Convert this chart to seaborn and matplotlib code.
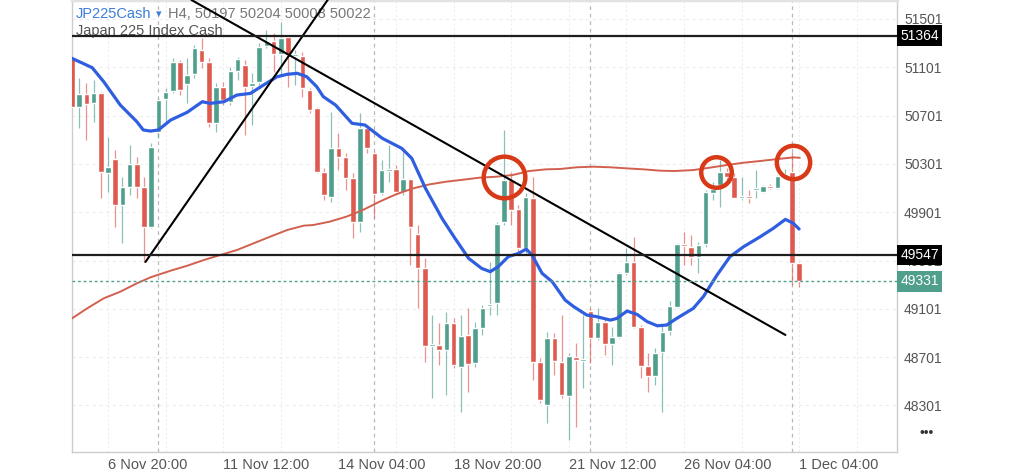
import numpy as np
import pandas as pd
import seaborn as sns
import matplotlib.pyplot as plt
from matplotlib import transforms

# H4 candles, bar 0 is the left-most (partly cut) bar
opens = [51175, 50775, 50880, 50802, 50885, 50223, 50339, 49961, 50112, 50297,
         50107, 49781, 50568, 50838, 50905, 51142, 50962, 51043, 51244, 51142,
         50642, 50935, 50816, 51073, 51120, 50946, 50982, 51277, 51321, 51211,
         51354, 51197, 51197, 50913, 50761, 50237, 50030, 50430, 50355, 50181,
         49823, 50595, 50388, 50057, 50245, 50256, 50071, 50173, 49718, 49442,
         48796, 48801, 48760, 48986, 48622, 48884, 48650, 48945, 49127, 49146,
         49817, 50168, 49925, 49607, 50021, 48658, 48305, 48862, 48663, 48382,
         48705, 48672, 49083, 48857, 48995, 48810, 48870, 49395, 49486, 48953,
         48630, 48547, 48746, 48917, 49119, 49629, 49616, 49527, 49635, 50063,
         50126, 50237, 50195, 50021, 50035, 50085, 50071, 50118, 50099, 50203,
         50237, 49478]
highs = [51189, 51009, 50968, 50996, 50899, 50526, 50416, 50195, 50457, 50361,
         50195, 50471, 50844, 50927, 51175, 51161, 51175, 51285, 51341, 51175,
         50968, 50982, 51106, 51189, 51161, 51051, 51299, 51410, 51382, 51479,
         51368, 51244, 51230, 50927, 50775, 50264, 50733, 50554, 50388, 50223,
         50720, 50623, 50408, 50333, 50457, 50292, 50402, 50187, 49795, 49519,
         49050, 48981, 49078, 49022, 49050, 49105, 48995, 49133, 49491, 49823,
         50582, 50237, 49961, 50057, 50195, 48691, 48912, 48898, 49050, 48732,
         48815, 49050, 49105, 49105, 49022, 48953, 49409, 49602, 49698, 48967,
         48732, 48774, 48967, 49166, 49643, 49740, 49712, 49657, 50085, 50154,
         50333, 50264, 50223, 50195, 50085, 50250, 50126, 50132, 50209, 50260,
         50402, 49486]
lows = [50761, 50595, 50499, 50651, 50016, 50071, 49781, 49643, 50043, 50016,
        49491, 49767, 50513, 50651, 50885, 50871, 50802, 51009, 51092, 50609,
        50568, 50789, 50789, 50996, 50540, 50623, 50954, 51258, 51065, 51037,
        50940, 50954, 50858, 50720, 50223, 50002, 49988, 50250, 50085, 49685,
        49740, 50388, 49850, 50043, 50154, 50043, 50043, 49464, 49105, 48663,
        48360, 48636, 48387, 48608, 48249, 48415, 48622, 48884, 49050, 49050,
        49795, 49795, 49547, 49547, 48512, 48318, 48153, 48553, 48360, 48015,
        48125, 48443, 48650, 48843, 48719, 48636, 48857, 49381, 48939, 48525,
        48415, 48470, 48249, 48884, 49105, 49464, 49464, 49395, 49616, 50002,
        49947, 50154, 50016, 50002, 49974, 50016, 50057, 50093, 50093, 50190,
        49298, 49284]
closes = [50775, 50880, 50797, 50885, 50237, 50278, 49961, 50107, 50297, 50107,
          49781, 50438, 50830, 50899, 51142, 50913, 51037, 51263, 51147, 50637,
          50940, 50830, 51070, 51167, 50940, 50968, 51272, 51321, 51211, 51341,
          51203, 51208, 50927, 50747, 50237, 50043, 50430, 50361, 50187, 49823,
          50595, 50435, 50052, 50250, 50256, 50071, 50176, 49781, 49442, 48793,
          48807, 48760, 48981, 48636, 48876, 48641, 48939, 49111, 49138, 49801,
          50168, 49919, 49607, 50024, 48663, 48346, 48857, 48669, 48387, 48710,
          48677, 48683, 48857, 48995, 48807, 48865, 49395, 49486, 48953, 48630,
          48547, 48738, 48912, 49124, 49635, 49621, 49527, 49629, 50065, 50090,
          50237, 50195, 50021, 50030, 50021, 50099, 50118, 50104, 50203, 50214,
          49478, 49331]

tick_bars = [5, 21, 37, 53, 69, 85, 101]
tick_labels = ["6 Nov 20:00", "11 Nov 12:00", "14 Nov 04:00", "18 Nov 20:00",
               "21 Nov 12:00", "26 Nov 04:00", "1 Dec 04:00"]
week_starts = [12, 42, 72, 100]
price_ticks = [48301, 48701, 49101, 49501, 49901, 50301, 50701, 51101, 51501]

# moving averages (bar position, price)
fast_ma_x = [0.0, 2.8, 4.4, 6.7, 9.0, 9.9, 10.9, 12.0, 13.7, 16.0, 18.1, 19.2, 21.1,
             22.9, 24.8, 26.6, 28.5, 29.9, 31.3, 32.6, 34.0, 34.9, 36.6, 38.9, 40.7,
             43.1, 45.8, 47.2, 49.1, 51.4, 53.2, 55.1, 56.9, 58.1, 59.2, 60.6, 62.0,
             63.1, 63.9, 65.3, 66.7, 68.5, 69.7, 71.5, 72.9, 74.8, 75.7, 77.1, 78.5,
             79.9, 81.3, 82.6, 84.0, 86.3, 87.7, 89.6, 91.4, 93.3, 95.6, 97.4, 99.1,
             100.2, 101.0]
fast_ma_y = [51175, 51098, 50982, 50789, 50651, 50582, 50573, 50582, 50664, 50728,
             50816, 50802, 50816, 50871, 50885, 50954, 51023, 51043, 51051, 51023,
             50940, 50858, 50789, 50637, 50623, 50513, 50430, 50347, 50099, 49850,
             49685, 49519, 49436, 49409, 49450, 49533, 49560, 49596, 49547, 49395,
             49326, 49174, 49119, 49050, 49036, 49008, 49022, 49083, 49055, 48995,
             48961, 48967, 49022, 49105, 49202, 49381, 49533, 49616, 49698, 49767,
             49842, 49809, 49762]
slow_ma_x = [0.0, 2.1, 4.4, 6.7, 9.0, 10.9, 13.7, 16.0, 18.3, 20.6, 22.9, 25.2, 27.5,
             29.9, 32.2, 33.5, 35.8, 38.1, 40.4, 42.7, 45.0, 47.4, 49.7, 52.0, 54.3,
             56.6, 58.9, 61.2, 63.5, 65.8, 67.8, 70.1, 72.4, 74.8, 77.1, 79.4, 81.7,
             83.6, 86.3, 88.6, 91.0, 93.3, 95.6, 97.9, 100.2, 101.1]
slow_ma_y = [49022, 49105, 49188, 49243, 49312, 49362, 49417, 49458, 49505, 49547,
             49588, 49643, 49698, 49754, 49790, 49795, 49823, 49864, 49919, 49988,
             50049, 50099, 50132, 50154, 50170, 50187, 50195, 50209, 50242, 50256,
             50259, 50273, 50278, 50273, 50264, 50256, 50245, 50242, 50250, 50270,
             50292, 50311, 50325, 50341, 50355, 50352]

levels = [51364, 49547]
last_price = 49331

# drawn trend lines (bar, price at each end)
trend_up_x = [10.2, 36.0]
trend_up_y = [49489, 51700]
trend_down_x = [16.6, 99.1]
trend_down_y = [51658, 48885]

# hand-drawn circles (bar, price)
circle_x = [60.0, 89.4, 100.2]
circle_y = [50195, 50237, 50314]
circle_ms = [30, 22, 24]

GREEN = "#4f9f8c"
RED = "#de5a4f"

sns.set_style("white")
plt.rcParams["font.family"] = ["Liberation Sans", "DejaVu Sans"]

df = pd.DataFrame({"open": opens, "high": highs, "low": lows, "close": closes})
df["bar"] = np.arange(len(df))
colors = np.where(df["close"] >= df["open"], GREEN, RED)

fig = plt.figure(figsize=(10.24, 4.72), dpi=100)
ax = fig.add_axes([72 / 1024, 20 / 472, 825 / 1024, 452 / 472])

# faint grid + weekly separators
for x in range(5, 115, 8):
    ax.axvline(x, color="#ededed", lw=0.8, ls=(0, (2, 2)), zorder=0)
for y in price_ticks:
    ax.axhline(y, color="#ededed", lw=0.8, ls=(0, (3, 3)), zorder=0)
for x in week_starts:
    ax.axvline(x, color="#b8b8b8", lw=0.9, ls=(0, (3, 3)), zorder=0.5)

# candles
ax.vlines(df["bar"], df["low"], df["high"], colors=colors, lw=0.9, alpha=0.65, zorder=2)
body = (df["close"] - df["open"]).abs().clip(lower=14)
ax.bar(df["bar"], body, bottom=df[["open", "close"]].min(axis=1), width=0.78,
       color=colors, zorder=3)

# moving averages
sns.lineplot(x=slow_ma_x, y=slow_ma_y, ax=ax, color="#d2604e", lw=1.4, zorder=4)
sns.lineplot(x=fast_ma_x, y=fast_ma_y, ax=ax, color="#2f5fe0", lw=2.3, zorder=5)

# drawings
ax.plot(trend_up_x, trend_up_y, color="black", lw=1.5, zorder=6)
ax.plot(trend_down_x, trend_down_y, color="black", lw=1.5, zorder=6)
for y in levels:
    ax.axhline(y, color="#1e1e1e", lw=1.6, zorder=6)
ax.axhline(last_price, color=GREEN, lw=1, ls=(0, (2, 2)), zorder=6)
for cx, cy, ms in zip(circle_x, circle_y, circle_ms):
    ax.plot([cx], [cy], ls="none", marker="o", ms=ms, mfc="none",
            mec="#d83a18", mew=3.2, zorder=7)

ax.set_xlim(0.0, 114.6)
ax.set_ylim(47916, 51658)

ax.yaxis.tick_right()
ax.set_yticks(price_ticks)
ax.set_yticklabels([str(v) for v in price_ticks])
ax.tick_params(axis="y", length=0, pad=5, labelsize=10, labelcolor="#555555")
ax.set_xticks(tick_bars)
ax.set_xticklabels(tick_labels, ha="left")
ax.tick_params(axis="x", length=3, width=0.8, color="#cccccc", pad=1,
               labelsize=10.5, labelcolor="#555555")
ax.set_xlabel("")
ax.set_ylabel("")

for side in ["left", "bottom", "right"]:
    ax.spines[side].set_color("#cccccc")
    ax.spines[side].set_linewidth(1)
ax.spines["top"].set_color("#e2e2e2")
ax.spines["top"].set_linewidth(2.5)

# price labels on the right axis
trans = transforms.blended_transform_factory(ax.transAxes, ax.transData)
for y in levels:
    ax.text(1.004, y, str(y), transform=trans, ha="left", va="center", color="white",
            fontsize=10, zorder=10, clip_on=False,
            bbox=dict(boxstyle="square,pad=0.25", fc="black", ec="none"))
ax.text(1.004, last_price, str(last_price), transform=trans, ha="left", va="center",
        color="white", fontsize=10, zorder=10, clip_on=False,
        bbox=dict(boxstyle="square,pad=0.25", fc=GREEN, ec="none"))

# header
ax.text(76 / 1024, 1 - 14 / 472, "JP225Cash", transform=fig.transFigure, color="#3b7dd8",
        fontsize=10.5, va="center", ha="left", zorder=1)
ax.text(156 / 1024, 1 - 14 / 472, "\u25be", transform=fig.transFigure, color="#3b7dd8",
        fontsize=8, va="center", ha="left", zorder=1)
ax.text(168 / 1024, 1 - 14 / 472, "H4, 50197 50204 50008 50022", transform=fig.transFigure,
        color="#777777", fontsize=10.5, va="center", ha="left", zorder=1)
ax.text(76 / 1024, 1 - 31 / 472, "Japan 225 Index Cash", transform=fig.transFigure,
        color="#555555", fontsize=10.5, va="center", ha="left", zorder=1)
fig.text(927 / 1024, 1 - 433 / 472, "\u2022\u2022\u2022", color="#333333", fontsize=10,
         ha="center", va="center")

fig.savefig("out.png", dpi=100)
